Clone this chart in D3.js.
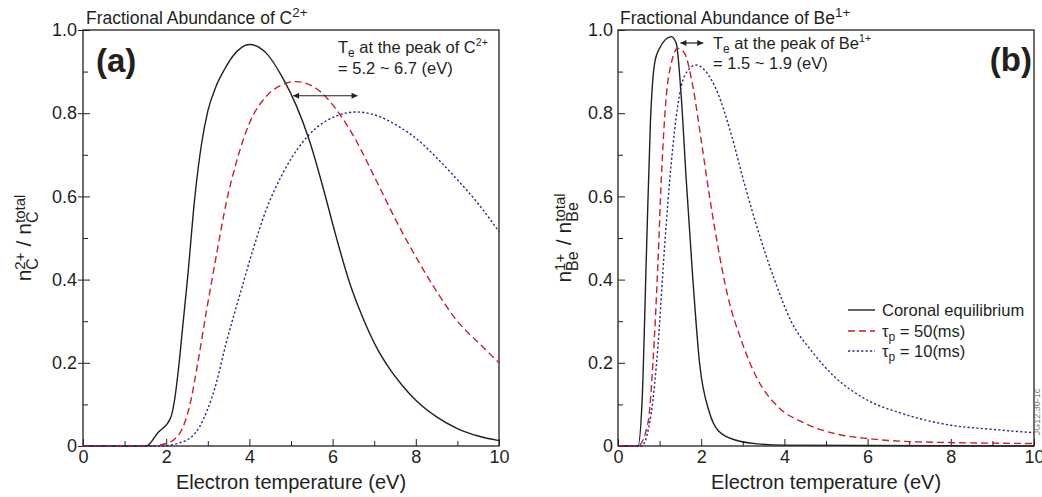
<!DOCTYPE html>
<html>
<head>
<meta charset="utf-8">
<script src="https://cdn.jsdelivr.net/npm/d3@7"></script>
<style>
body { margin: 0; background: #fff; }
svg text { font-family: "Liberation Sans", Arial, sans-serif; fill: #231f20; }
</style>
</head>
<body>
<div id="container"></div>
<script>
// ticks
let xMajor = [0, 2, 4, 6, 8, 10];
let xMinor = [1, 3, 5, 7, 9];
let yMajor = [0, 0.2, 0.4, 0.6, 0.8, 1.0];
let yMinor = [0.1, 0.3, 0.5, 0.7, 0.9];
let yLabels = ["0", "0.2", "0.4", "0.6", "0.8", "1.0"];

// (a) C2+ fraction vs Te (eV)
let cCoronal = [[0,0],[1.52,0],[1.8,0.032],[2.1,0.066],[2.2,0.11],[2.3,0.19],[2.4,0.29],[2.52,0.41],[2.68,0.59],[2.84,0.72],[3.0,0.805],[3.2,0.865],[3.4,0.905],[3.6,0.937],[3.8,0.957],[4.0,0.965],[4.4,0.945],[4.8,0.885],[5.12,0.82],[5.44,0.735],[5.76,0.625],[6.08,0.505],[6.4,0.395],[6.72,0.31],[7.04,0.24],[7.36,0.187],[7.68,0.145],[8.0,0.11],[8.5,0.07],[9.0,0.042],[9.5,0.024],[10,0.013]];
let cTau50 = [[0,0],[1.6,0],[2.0,0.006],[2.32,0.03],[2.56,0.095],[2.76,0.2],[2.96,0.32],[3.2,0.455],[3.44,0.583],[3.68,0.68],[4.0,0.776],[4.4,0.84],[4.8,0.869],[5.12,0.876],[5.6,0.86],[6.08,0.81],[6.56,0.735],[7.04,0.64],[7.52,0.543],[8.0,0.455],[8.48,0.375],[9.0,0.3],[9.52,0.247],[10,0.2]];
let cTau10 = [[0,0],[1.84,0],[2.4,0.01],[2.8,0.046],[3.2,0.15],[3.44,0.247],[3.76,0.36],[4.08,0.47],[4.4,0.567],[4.8,0.655],[5.2,0.72],[5.6,0.764],[6.08,0.793],[6.56,0.803],[7.04,0.795],[7.52,0.772],[8.0,0.74],[8.48,0.695],[9.0,0.64],[9.52,0.58],[10,0.515]];

// (b) Be1+ fraction vs Te (eV)
let beCoronal = [[0,0],[0.48,0],[0.58,0.11],[0.68,0.45],[0.78,0.78],[0.88,0.92],[1.0,0.956],[1.28,0.984],[1.4,0.968],[1.52,0.84],[1.64,0.64],[1.8,0.4],[1.96,0.2],[2.2,0.08],[2.4,0.038],[2.8,0.015],[3.36,0.005],[4.0,0.002],[10,0]];
let beTau50 = [[0,0],[0.48,0],[0.72,0.055],[0.84,0.2],[0.96,0.44],[1.04,0.64],[1.16,0.84],[1.28,0.92],[1.44,0.956],[1.6,0.944],[1.8,0.864],[2.0,0.735],[2.2,0.6],[2.4,0.48],[2.64,0.36],[2.96,0.255],[3.36,0.159],[3.84,0.095],[4.48,0.055],[5.2,0.03],[6.0,0.018],[7.2,0.01],[10,0.006]];
let beTau10 = [[0,0],[0.56,0],[0.8,0.08],[0.96,0.24],[1.12,0.48],[1.28,0.68],[1.44,0.82],[1.6,0.89],[1.88,0.916],[2.08,0.904],[2.4,0.848],[2.72,0.75],[3.04,0.63],[3.36,0.52],[3.76,0.4],[4.16,0.3],[4.64,0.23],[5.2,0.167],[6.0,0.11],[6.8,0.079],[8.0,0.05],[9.0,0.04],[10,0.032]];

let legendNames = ["Coronal equilibrium", "50(ms)", "10(ms)"];

let w = 1042;
let h = 497;
let plotW = 416;
let yTop = 30;
let yBottom = 446;
let ink = "#231f20";
let red = "#c8202f";
let blue = "#2b2b8c";

let viz = d3.select("#container")
  .append("svg")
    .attr("width", w)
    .attr("height", h)
    .style("background", "#fff")
;

let defs = viz.append("defs");
defs.append("marker")
    .attr("id", "head")
    .attr("viewBox", "0 0 10 10")
    .attr("refX", 10).attr("refY", 5)
    .attr("markerWidth", 7).attr("markerHeight", 6)
    .attr("markerUnits", "userSpaceOnUse")
    .attr("orient", "auto-start-reverse")
  .append("path")
    .attr("d", "M0,0 L10,5 L0,10 z")
    .attr("fill", ink);

function drawPanel(left, series, crossTicks) {
  let xScale = d3.scaleLinear().domain([0, 10]).range([left, left + plotW]);
  let yScale = d3.scaleLinear().domain([0, 1]).range([yBottom, yTop]);

  let g = viz.append("g");

  // x axis, ticks pointing in
  let xAxis = d3.axisBottom(xScale).tickValues(xMajor)
      .tickSizeInner(-7).tickSizeOuter(0).tickPadding(4)
      .tickFormat(d3.format("d"));
  g.append("g")
      .attr("transform", "translate(0," + yBottom + ")")
      .call(xAxis)
      .call(s => s.select(".domain").remove())
      .attr("font-size", 18).attr("font-family", null).attr("color", ink);
  g.append("g")
      .attr("transform", "translate(0," + yBottom + ")")
      .call(d3.axisBottom(xScale).tickValues(xMinor).tickSizeInner(-5).tickSizeOuter(0).tickFormat(""))
      .call(s => s.select(".domain").remove())
      .attr("color", ink);

  // y axis
  let yAxis = d3.axisLeft(yScale).tickValues(yMajor)
      .tickSizeInner(-7).tickSizeOuter(0).tickPadding(crossTicks ? 6 : 5)
      .tickFormat((d, i) => yLabels[i]);
  g.append("g")
      .attr("transform", "translate(" + left + ",0)")
      .call(yAxis)
      .call(s => s.select(".domain").remove())
      .attr("font-size", 18).attr("font-family", null).attr("color", ink);
  g.append("g")
      .attr("transform", "translate(" + left + ",0)")
      .call(d3.axisLeft(yScale).tickValues(yMinor).tickSizeInner(-5).tickSizeOuter(0).tickFormat(""))
      .call(s => s.select(".domain").remove())
      .attr("color", ink);
  if (crossTicks) {
    g.append("g")
        .attr("transform", "translate(" + left + ",0)")
        .call(d3.axisLeft(yScale).tickValues(yMajor).tickSizeInner(5).tickSizeOuter(0).tickFormat(""))
        .call(s => s.select(".domain").remove())
        .attr("color", ink);
  }

  // frame
  g.append("rect")
      .attr("x", left).attr("y", yTop)
      .attr("width", plotW).attr("height", yBottom - yTop)
      .attr("fill", "none").attr("stroke", ink).attr("stroke-width", 1.3);

  let lineMaker = d3.line()
      .x(d => xScale(d[0]))
      .y(d => yScale(d[1]))
      .curve(d3.curveMonotoneX);

  let styles = [
    { color: ink, dash: null },
    { color: red, dash: "7,4" },
    { color: blue, dash: "2.2,2.2" }
  ];
  series.forEach(function(s, i) {
    g.append("path")
        .datum(s)
        .attr("d", lineMaker)
        .attr("fill", "none")
        .attr("stroke", styles[i].color)
        .attr("stroke-width", 1.4)
        .attr("stroke-dasharray", styles[i].dash);
  });

  // x title
  g.append("text")
      .attr("x", left + plotW / 2).attr("y", 489)
      .attr("text-anchor", "middle")
      .attr("font-size", 20)
      .text("Electron temperature (eV)");

  return { xScale: xScale, yScale: yScale, g: g, styles: styles };
}

// text with a superscript tail, e.g. "C" + "2+"
function supText(sel, x, y, size, main, sup) {
  let t = sel.append("text").attr("x", x).attr("y", y).attr("font-size", size);
  t.append("tspan").text(main);
  t.append("tspan").attr("dy", -size * 0.42).attr("font-size", size * 0.76).text(sup);
  return t;
}

// "Te at the peak of X^sup"
function peakText(sel, x, y, size, ion, sup) {
  let t = sel.append("text").attr("x", x).attr("y", y).attr("font-size", size);
  t.append("tspan").text("T");
  t.append("tspan").attr("dy", 4).attr("font-size", size * 0.72).text("e");
  t.append("tspan").attr("dy", -4).text("\u00a0at the peak of " + ion);
  t.append("tspan").attr("dy", -size * 0.42).attr("font-size", size * 0.64).text(sup);
}

// rotated y label n_sub^sup / n_sub^total
function yLabel(cx, cy, sub, sup) {
  let g = viz.append("g").attr("transform", "translate(" + cx + "," + cy + ") rotate(-90)");
  let inner = g.append("g");
  let x = 0;
  function piece(str, size, dy) {
    let t = inner.append("text").attr("x", x).attr("y", dy).attr("font-size", size).text(str);
    return t.node().getComputedTextLength();
  }
  x += piece("n", 21, 0);
  let a = piece(sup, 15, -6);
  let b = piece(sub, 16, 7);
  x += Math.max(a, b) + 6;
  x += piece("/", 21, 0) + 6;
  x += piece("n", 21, 0);
  a = piece("total", 15, -6);
  b = piece(sub, 16, 7);
  x += Math.max(a, b);
  inner.attr("transform", "translate(" + (-x / 2) + ",0)");
}

// panel (a)
let pa = drawPanel(83, [cCoronal, cTau50, cTau10], true);
supText(viz, 86, 24, 17.5, "Fractional Abundance of C", "2+");
viz.append("text").attr("x", 96).attr("y", 72)
    .attr("font-size", 33).attr("font-weight", "bold").text("(a)");
peakText(viz, 338, 53, 16.5, "C", "2+");
viz.append("text").attr("x", 338).attr("y", 74).attr("font-size", 16.5).text("= 5.2 ~ 6.7 (eV)");
viz.append("line")
    .attr("x1", pa.xScale(5.05)).attr("x2", pa.xScale(6.6))
    .attr("y1", pa.yScale(0.842)).attr("y2", pa.yScale(0.842))
    .attr("stroke", ink).attr("stroke-width", 1.2)
    .attr("marker-start", "url(#head)").attr("marker-end", "url(#head)");
yLabel(31, 238, "C", "2+");

// panel (b)
let pb = drawPanel(618, [beCoronal, beTau50, beTau10], false);
supText(viz, 620, 24, 17.5, "Fractional Abundance of Be", "1+");
viz.append("text").attr("x", 1032).attr("y", 71).attr("text-anchor", "end")
    .attr("font-size", 33).attr("font-weight", "bold").text("(b)");
peakText(viz, 713, 49, 16.5, "Be", "1+");
viz.append("text").attr("x", 713).attr("y", 69).attr("font-size", 16.5).text("= 1.5 ~ 1.9 (eV)");
viz.append("line")
    .attr("x1", pb.xScale(1.5)).attr("x2", pb.xScale(2.05))
    .attr("y1", 43).attr("y2", 43)
    .attr("stroke", ink).attr("stroke-width", 1.2)
    .attr("marker-start", "url(#head)").attr("marker-end", "url(#head)");
yLabel(571, 238, "Be", "1+");

// legend in panel (b)
let legendY = [310, 331, 351];
legendNames.forEach(function(name, i) {
  viz.append("line")
      .attr("x1", 848).attr("x2", 875)
      .attr("y1", legendY[i]).attr("y2", legendY[i])
      .attr("stroke", pb.styles[i].color).attr("stroke-width", 1.4)
      .attr("stroke-dasharray", pb.styles[i].dash);
  let t = viz.append("text").attr("x", 882).attr("y", legendY[i] + 6).attr("font-size", 16.5);
  if (i == 0) {
    t.text(name);
  } else {
    t.append("tspan").text("\u03c4");
    t.append("tspan").attr("dy", 4).attr("font-size", 12).text("p");
    t.append("tspan").attr("dy", -4).text("\u00a0= " + name);
  }
});

// figure id at the right edge
viz.append("text")
    .attr("transform", "translate(1040,412) rotate(-90)")
    .attr("text-anchor", "middle")
    .attr("font-size", 9)
    .style("fill", "#777")
    .text("JG12.30-1c");
</script>
</body>
</html>
